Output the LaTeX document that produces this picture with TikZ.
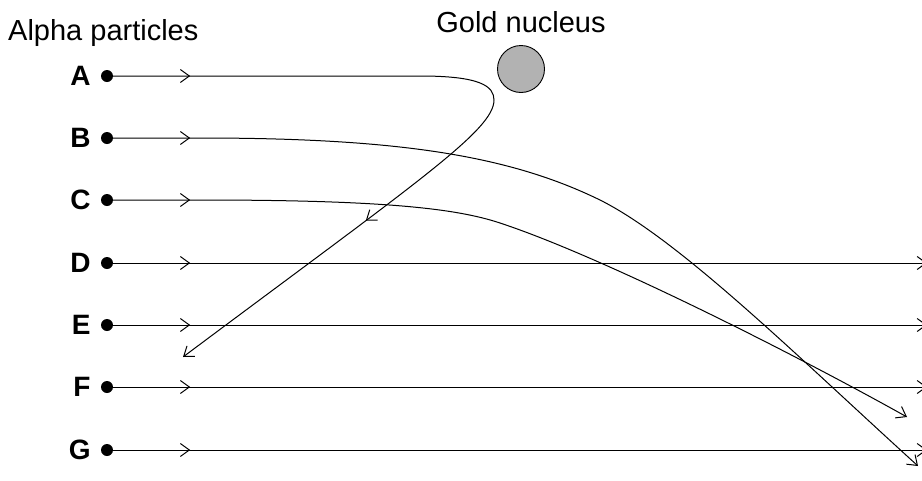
\documentclass[tikz,border=0pt]{standalone}
\usepackage{fontspec}
\setmainfont{Liberation Sans}
\usetikzlibrary{arrows.meta,positioning,decorations.markings}
\definecolor{nucleusgray}{gray}{0.7}

\begin{document}
\begin{tikzpicture}[
    x=1pt, y=-1pt,
    chev/.tip={Straight Barb[length=9pt,width=13pt]},
    dot/.style={circle, fill=black, inner sep=0pt, minimum size=12pt},
    tag/.style={inner sep=0pt, font=\bfseries\fontsize{28}{32}\selectfont},
    caption/.style={inner sep=0pt, font=\fontsize{29}{34}\selectfont},
    ray/.style={line width=1pt, -chev, postaction={decorate},
      decoration={markings, mark=at position 77pt with {\arrow{chev}}}}
  ]
  \useasboundingbox (0,0) rectangle (922,480);
  \clip (0,0) rectangle (922,480);

  \node[caption, anchor=base west] (alpha) at (8,40) {Alpha particles};
  \node[caption, anchor=base] (goldlbl) at (521,32) {Gold nucleus};
  \node[circle, draw, line width=0.9pt, fill=nucleusgray, inner sep=0pt, minimum size=47pt] (gold) at (521,69) {};

  \foreach \n/\y in {A/76,B/138,C/200,D/263,E/325,F/387,G/450} {
    \node[dot] (d\n) at (107,\y) {};
    \node[tag, left=10pt of d\n] (l\n) {\n};
  }

  % straight through
  \foreach \n/\y in {D/263,E/325,F/387,G/450} {
    \coordinate (e\n) at (927,\y);
    \draw[ray] (d\n) -- (e\n);
  }

  % deflected
  \coordinate (eA) at (183,357);
  \coordinate (eB) at (918,466);
  \coordinate (eC) at (907,417);
  \draw[ray, decoration={mark=at position 570pt with {\arrow{chev}}}]
    (dA) -- (420,76) .. controls (480,76) and (494,86) .. (494,100)
    .. controls (494,130) and (420,180) .. (eA);
  \draw[ray] (dB) -- (200,138) .. controls (400,138) and (510,156) .. (600,200)
    .. controls (680,240) and (798,357) .. (eB);
  \draw[ray] (dC) -- (200,200) .. controls (380,200) and (455,208) .. (500,223)
    .. controls (600,256) and (787,350) .. (eC);
\end{tikzpicture}
\end{document}
